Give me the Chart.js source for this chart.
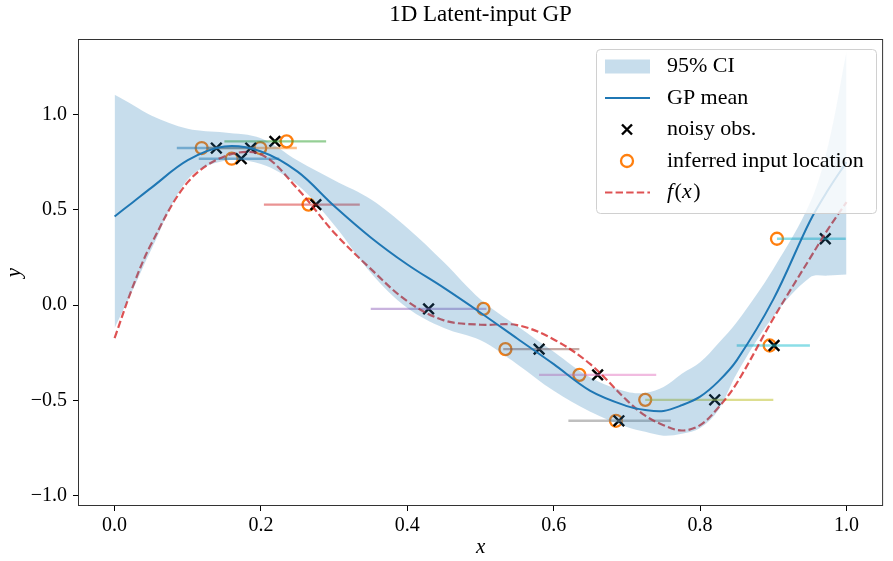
<!DOCTYPE html>
<html>
<head>
<meta charset="utf-8">
<script src="https://cdn.jsdelivr.net/npm/chart.js@4.4.0/dist/chart.umd.min.js"></script>
<style>
  html, body { margin: 0; padding: 0; background: #fff; }
</style>
</head>
<body>
<canvas id="chart" width="893" height="561"></canvas>
<script>
// curve grid and curves
const gridX = [0, 0.025, 0.05, 0.1, 0.15, 0.2, 0.25, 0.3, 0.35, 0.4, 0.45, 0.5, 0.55, 0.6,
  0.65, 0.7, 0.725, 0.75, 0.775, 0.8, 0.825, 0.85, 0.9, 0.95, 0.975, 1.0];
const gpMean = [0.465, 0.54, 0.615, 0.76, 0.832, 0.806, 0.70, 0.52, 0.355, 0.213, 0.09, -0.04,
  -0.175, -0.31, -0.45, -0.53, -0.55, -0.555, -0.525, -0.48, -0.40, -0.29, 0.03, 0.44, 0.605, 0.75];
const ciUpper = [1.103, 1.05, 0.995, 0.925, 0.905, 0.875, 0.758, 0.655, 0.555, 0.405, 0.225, 0.03,
  -0.11, -0.245, -0.38, -0.455, -0.46, -0.43, -0.36, -0.30, -0.20, -0.09, 0.19, 0.535, 0.84, 1.33];
const ciLower = [-0.12, 0.08, 0.29, 0.66, 0.757, 0.74, 0.63, 0.42, 0.17, -0.015, -0.12, -0.185,
  -0.31, -0.45, -0.56, -0.64, -0.665, -0.685, -0.675, -0.645, -0.55, -0.36, -0.06, 0.145, 0.155, 0.16];
const trueF = [-0.173, 0.098, 0.32, 0.645, 0.78, 0.79, 0.61, 0.38, 0.19, 0.02, -0.08, -0.103,
  -0.105, -0.18, -0.31, -0.50, -0.58, -0.63, -0.658, -0.63, -0.537, -0.41, -0.07, 0.245, 0.40, 0.54];

// observations, inferred inputs and their input-uncertainty bars
const obsX = [0.139, 0.173, 0.186, 0.219, 0.275, 0.429, 0.58, 0.66, 0.689, 0.82, 0.901, 0.971];
const obsY = [0.824, 0.768, 0.824, 0.859, 0.527, -0.02, -0.231, -0.366, -0.607, -0.497, -0.212, 0.348];
const inferredX = [0.119, 0.16, 0.199, 0.235, 0.265, 0.504, 0.534, 0.635, 0.685, 0.725, 0.895, 0.905];
const barLo = [0.085, 0.115, 0.125, 0.150, 0.204, 0.350, 0.531, 0.580, 0.620, 0.725, 0.850, 0.905];
const barHi = [0.193, 0.225, 0.249, 0.289, 0.335, 0.508, 0.635, 0.740, 0.760, 0.900, 0.950, 0.999];
const barColors = ['#1f77b4', '#1f77b4', '#ff7f0e', '#2ca02c', '#d62728', '#9467bd',
  '#8c564b', '#e377c2', '#7f7f7f', '#bcbd22', '#17becf', '#17becf'];

const xTicks = [0, 0.2, 0.4, 0.6, 0.8, 1.0];
const yTicks = [-1.0, -0.5, 0, 0.5, 1.0];

const SERIF = "'Liberation Serif', 'DejaVu Serif', serif";
const bandColor = 'rgba(31,119,180,0.25)';
const fColor = 'rgba(214,39,40,0.8)';

function hexA(hex, a) {
  const n = parseInt(hex.slice(1), 16);
  return `rgba(${(n >> 16) & 255},${(n >> 8) & 255},${n & 255},${a})`;
}
const fmt = (v) => (v < 0 ? '\u2212' : '') + Math.abs(v).toFixed(1);
const pts = (ys) => gridX.map((x, i) => ({ x: x, y: ys[i] }));

const datasets = [
  { label: '95% CI', data: pts(ciUpper), showLine: true, borderWidth: 0, pointRadius: 0,
    backgroundColor: bandColor, fill: '+1', tension: 0.35 },
  { label: 'ci lower', data: pts(ciLower), showLine: true, borderWidth: 0, pointRadius: 0,
    fill: false, tension: 0.35 },
  { label: 'GP mean', data: pts(gpMean), showLine: true, borderColor: '#1f77b4', borderWidth: 2,
    pointRadius: 0, fill: false, tension: 0.35 },
  { label: 'f(x)', data: pts(trueF), showLine: true, borderColor: fColor, borderWidth: 2.2,
    borderDash: [7.4, 3.2], pointRadius: 0, fill: false, tension: 0.35 },
];

// horizontal bars, one per observation
obsX.forEach((_, i) => {
  datasets.push({
    label: 'bar' + i,
    data: [{ x: barLo[i], y: obsY[i] }, { x: barHi[i], y: obsY[i] }],
    showLine: true, borderColor: hexA(barColors[i], 0.5), borderWidth: 2.4,
    pointRadius: 0, fill: false,
  });
});

datasets.push({
  label: 'noisy obs.', data: obsX.map((x, i) => ({ x: x, y: obsY[i] })),
  pointStyle: 'crossRot', pointRadius: 7.5, borderColor: '#000', borderWidth: 2.4,
  backgroundColor: '#000', showLine: false,
});
datasets.push({
  label: 'inferred input location', data: inferredX.map((x, i) => ({ x: x, y: obsY[i] })),
  pointStyle: 'circle', pointRadius: 6, borderColor: '#ff7f0e', borderWidth: 2.3,
  backgroundColor: '#fff', showLine: false,
});

// frame, title and legend drawn over the plot
const decor = {
  id: 'decor',
  afterDraw(chart) {
    const { ctx, chartArea: a } = chart;
    ctx.save();
    ctx.strokeStyle = '#333';
    ctx.lineWidth = 1;
    ctx.strokeRect(a.left + 0.5, a.top + 0.5, a.right - a.left - 1, a.bottom - a.top - 1);

    ctx.fillStyle = '#000';
    ctx.font = `23px ${SERIF}`;
    ctx.textAlign = 'center';
    ctx.textBaseline = 'middle';
    ctx.fillText('1D Latent-input GP', (a.left + a.right) / 2, 15);

    // legend
    const bx = 596, by = 49, bw = 280, bh = 164;
    ctx.beginPath();
    ctx.roundRect(bx + 0.5, by + 0.5, bw, bh, 4);
    ctx.fillStyle = 'rgba(255,255,255,0.8)';
    ctx.fill();
    ctx.strokeStyle = '#d0d0d0';
    ctx.stroke();

    const hx0 = 605, hx1 = 650, mx = 627, tx = 667;
    const rows = [66.5, 98, 129.5, 161, 192.5];
    ctx.fillStyle = bandColor;
    ctx.fillRect(hx0, rows[0] - 7, hx1 - hx0, 14);

    ctx.strokeStyle = '#1f77b4';
    ctx.lineWidth = 2;
    ctx.beginPath(); ctx.moveTo(hx0, rows[1]); ctx.lineTo(hx1, rows[1]); ctx.stroke();

    ctx.strokeStyle = '#000';
    ctx.lineWidth = 2.4;
    const d = 5;
    ctx.beginPath();
    ctx.moveTo(mx - d, rows[2] - d); ctx.lineTo(mx + d, rows[2] + d);
    ctx.moveTo(mx - d, rows[2] + d); ctx.lineTo(mx + d, rows[2] - d);
    ctx.stroke();

    ctx.strokeStyle = '#ff7f0e';
    ctx.lineWidth = 2.3;
    ctx.fillStyle = '#fff';
    ctx.beginPath(); ctx.arc(mx, rows[3], 6, 0, Math.PI * 2); ctx.fill(); ctx.stroke();

    ctx.strokeStyle = fColor;
    ctx.lineWidth = 2.2;
    ctx.setLineDash([7.4, 3.2]);
    ctx.beginPath(); ctx.moveTo(hx0, rows[4]); ctx.lineTo(hx1, rows[4]); ctx.stroke();
    ctx.setLineDash([]);

    ctx.fillStyle = '#000';
    ctx.textAlign = 'left';
    ctx.font = `22px ${SERIF}`;
    ctx.fillText('95% CI', tx, rows[0]);
    ctx.fillText('GP mean', tx, rows[1]);
    ctx.fillText('noisy obs.', tx, rows[2]);
    ctx.fillText('inferred input location', tx, rows[3]);
    // f(x) with italic f and x
    let cx = tx;
    const parts = [['f', true], ['(', false], ['x', true], [')', false]];
    parts.forEach(([s, it]) => {
      ctx.font = `${it ? 'italic ' : ''}22px ${SERIF}`;
      ctx.fillText(s, cx, rows[4]);
      cx += ctx.measureText(s).width + (it ? 1.5 : 0);
    });
    ctx.restore();
  }
};

new Chart(document.getElementById('chart'), {
  type: 'scatter',
  data: { datasets: datasets },
  options: {
    responsive: false,
    devicePixelRatio: 1,
    animation: false,
    layout: { padding: { left: 0, top: 39, right: 7, bottom: 0 } },
    plugins: {
      legend: { display: false },
      title: { display: false },
      tooltip: { enabled: false },
    },
    scales: {
      x: {
        type: 'linear', min: -0.05, max: 1.05,
        afterBuildTicks: (s) => { s.ticks = xTicks.map((v) => ({ value: v })); },
        afterFit: (s) => { s.height = 55; },
        grid: { drawOnChartArea: false, tickLength: 5, tickColor: '#000' },
        border: { display: false },
        ticks: { font: { family: SERIF, size: 20 }, color: '#000', padding: 3,
          maxRotation: 0, autoSkip: false, callback: fmt },
        title: { display: true, text: 'x', color: '#000',
          font: { family: SERIF, size: 21, style: 'italic' }, padding: { top: 0, bottom: 1 } },
      },
      y: {
        type: 'linear', min: -1.054, max: 1.396,
        afterBuildTicks: (s) => { s.ticks = yTicks.map((v) => ({ value: v })); },
        afterFit: (s) => { s.width = 78; },
        grid: { drawOnChartArea: false, tickLength: 5, tickColor: '#000' },
        border: { display: false },
        ticks: { font: { family: SERIF, size: 20 }, color: '#000', padding: 6,
          autoSkip: false, callback: fmt },
        title: { display: true, text: 'y', color: '#000',
          font: { family: SERIF, size: 21, style: 'italic' }, padding: { top: 2, bottom: 0 } },
      },
    },
  },
  plugins: [decor],
});
</script>
</body>
</html>
